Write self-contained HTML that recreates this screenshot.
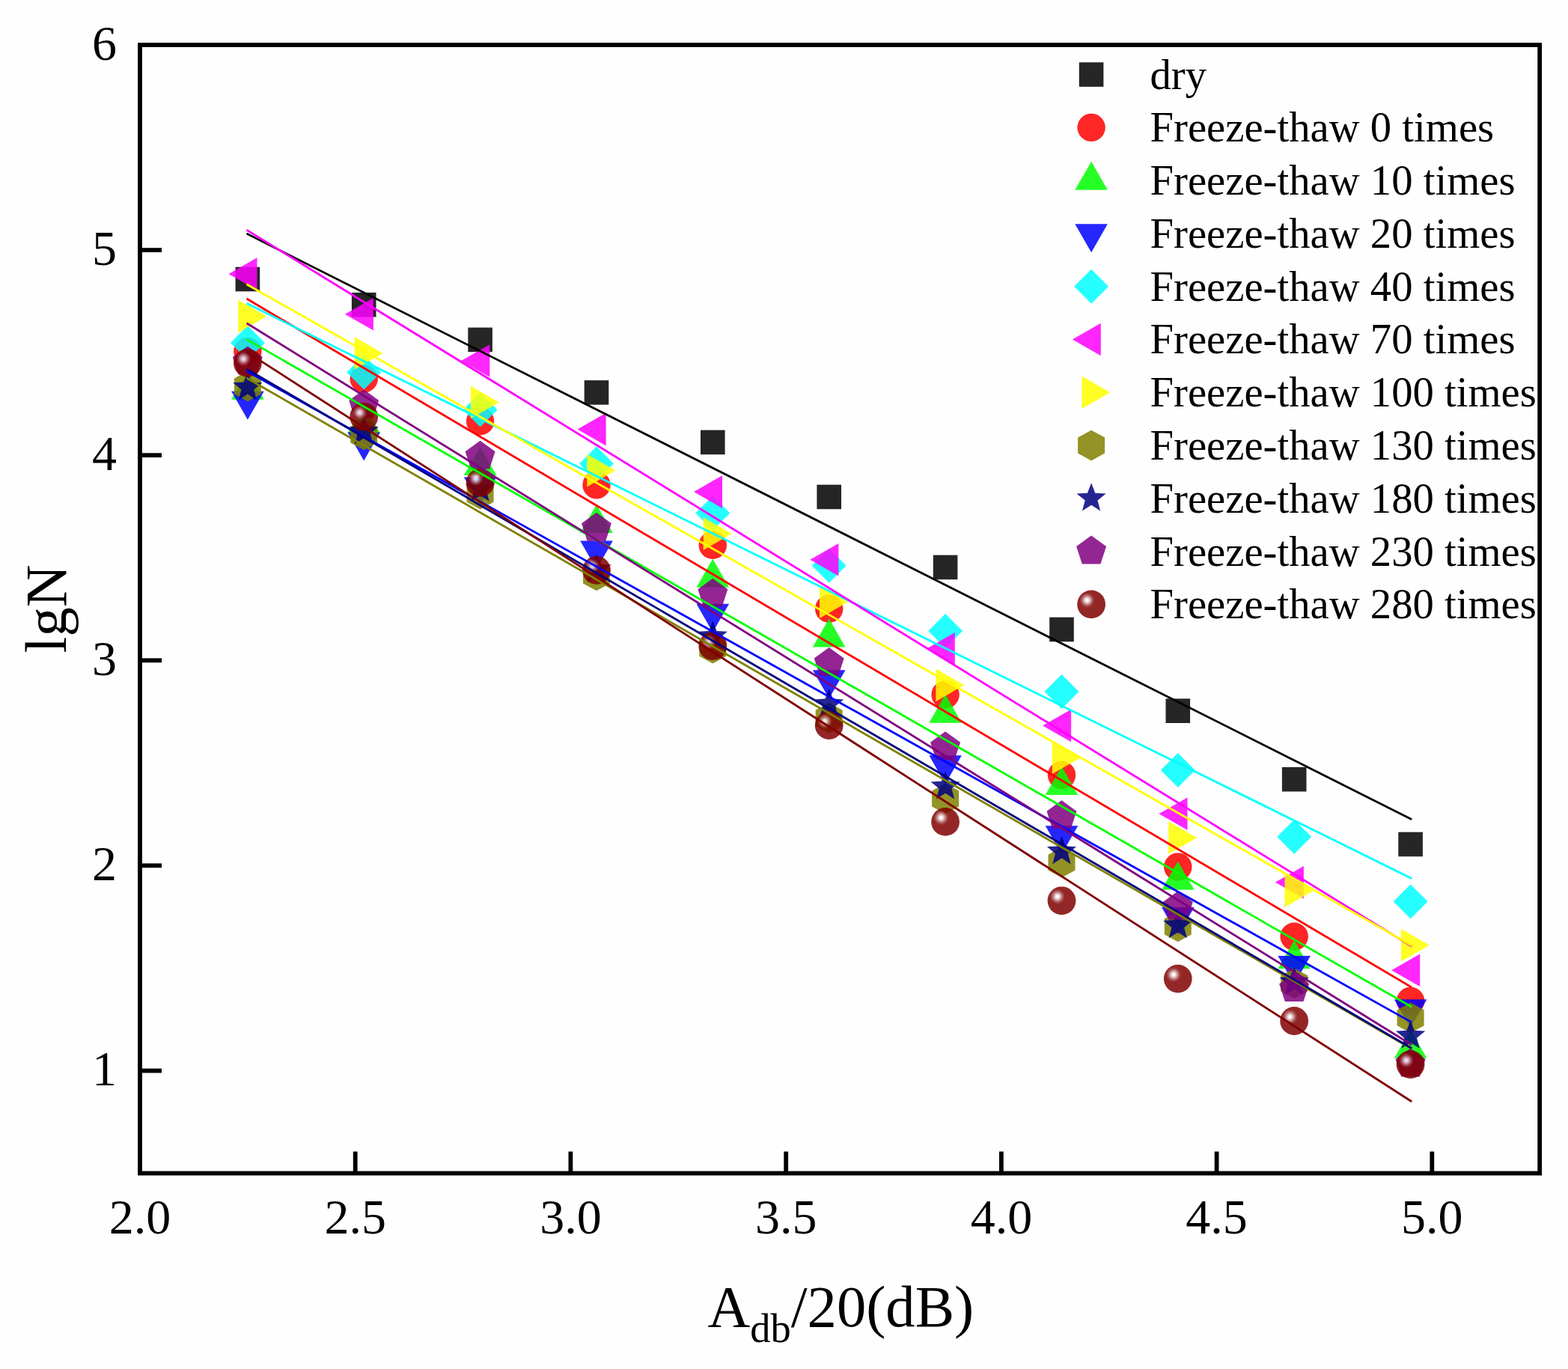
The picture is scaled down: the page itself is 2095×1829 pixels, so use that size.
<!DOCTYPE html>
<html lang="en">
<head>
<meta charset="utf-8">
<title>lgN versus Adb/20(dB) under freeze-thaw cycles</title>
<style>
html,body{margin:0;padding:0;background:#fefefe;}
body{width:2095px;height:1829px;overflow:hidden;}
svg{display:block;font-family:"Liberation Serif","DejaVu Serif",serif;fill:#000;}
.m{opacity:0.85}
.ln{fill:none;stroke-width:2.8;stroke-linecap:butt}
.tk{font-size:66px}
.lg{font-size:56.7px}
.al{font-size:78.6px}
</style>
</head>
<body>
<svg width="2095" height="1829" viewBox="0 0 2095 1829">
<defs><radialGradient id="hl" gradientUnits="userSpaceOnUse" cx="-5.7" cy="-5.5" r="10"><stop offset="0" stop-color="#fff" stop-opacity="1"/><stop offset="0.18" stop-color="#fff" stop-opacity="0.97"/><stop offset="0.45" stop-color="#fff" stop-opacity="0.6"/><stop offset="0.75" stop-color="#fff" stop-opacity="0.2"/><stop offset="1" stop-color="#fff" stop-opacity="0"/></radialGradient></defs>
<rect x="0" y="0" width="2095" height="1829" fill="#fefefe"/>
<g id="markers">
<g class="m" id="s-dry">
<rect x="314.6" y="356.7" width="32.6" height="32.6" fill="#000000"/>
<rect x="469.9" y="390.9" width="32.6" height="32.6" fill="#000000"/>
<rect x="625.3" y="437.6" width="32.6" height="32.6" fill="#000000"/>
<rect x="780.7" y="508.1" width="32.6" height="32.6" fill="#000000"/>
<rect x="936.0" y="574.6" width="32.6" height="32.6" fill="#000000"/>
<rect x="1091.4" y="647.6" width="32.6" height="32.6" fill="#000000"/>
<rect x="1246.8" y="741.6" width="32.6" height="32.6" fill="#000000"/>
<rect x="1402.2" y="824.7" width="32.6" height="32.6" fill="#000000"/>
<rect x="1557.5" y="933.4" width="32.6" height="32.6" fill="#000000"/>
<rect x="1712.9" y="1024.9" width="32.6" height="32.6" fill="#000000"/>
<rect x="1868.3" y="1111.7" width="32.6" height="32.6" fill="#000000"/>
</g>
<g class="m" id="s-ft0">
<circle cx="330.9" cy="469.5" r="18.7" fill="#ff0000"/>
<circle cx="486.2" cy="505.9" r="18.7" fill="#ff0000"/>
<circle cx="641.6" cy="562.8" r="18.7" fill="#ff0000"/>
<circle cx="797.0" cy="647.9" r="18.7" fill="#ff0000"/>
<circle cx="952.3" cy="728.3" r="18.7" fill="#ff0000"/>
<circle cx="1107.7" cy="813.3" r="18.7" fill="#ff0000"/>
<circle cx="1263.1" cy="928.0" r="18.7" fill="#ff0000"/>
<circle cx="1418.5" cy="1035.5" r="18.7" fill="#ff0000"/>
<circle cx="1573.8" cy="1158.1" r="18.7" fill="#ff0000"/>
<circle cx="1729.2" cy="1251.2" r="18.7" fill="#ff0000"/>
<circle cx="1884.6" cy="1337.4" r="18.7" fill="#ff0000"/>
</g>
<g class="m" id="s-ft10">
<polygon points="330.9,495.7 352.7,533.7 309.1,533.7" fill="#00ff00"/>
<polygon points="486.2,541.1 508.0,579.1 464.4,579.1" fill="#00ff00"/>
<polygon points="641.6,597.0 663.4,635.0 619.8,635.0" fill="#00ff00"/>
<polygon points="797.0,674.0 818.8,712.0 775.2,712.0" fill="#00ff00"/>
<polygon points="952.3,746.7 974.1,784.7 930.5,784.7" fill="#00ff00"/>
<polygon points="1107.7,826.4 1129.5,864.4 1085.9,864.4" fill="#00ff00"/>
<polygon points="1263.1,927.7 1284.9,965.7 1241.3,965.7" fill="#00ff00"/>
<polygon points="1418.5,1024.0 1440.3,1062.0 1396.7,1062.0" fill="#00ff00"/>
<polygon points="1573.8,1150.7 1595.6,1188.7 1552.0,1188.7" fill="#00ff00"/>
<polygon points="1729.2,1256.3 1751.0,1294.3 1707.4,1294.3" fill="#00ff00"/>
<polygon points="1884.6,1375.7 1906.4,1413.7 1862.8,1413.7" fill="#00ff00"/>
</g>
<g class="m" id="s-ft20">
<polygon points="330.9,560.7 352.7,522.7 309.1,522.7" fill="#0000ff"/>
<polygon points="486.2,615.4 508.0,577.4 464.4,577.4" fill="#0000ff"/>
<polygon points="641.6,675.6 663.4,637.6 619.8,637.6" fill="#0000ff"/>
<polygon points="797.0,760.6 818.8,722.6 775.2,722.6" fill="#0000ff"/>
<polygon points="952.3,844.7 974.1,806.7 930.5,806.7" fill="#0000ff"/>
<polygon points="1107.7,933.2 1129.5,895.2 1085.9,895.2" fill="#0000ff"/>
<polygon points="1263.1,1047.3 1284.9,1009.3 1241.3,1009.3" fill="#0000ff"/>
<polygon points="1418.5,1141.3 1440.3,1103.3 1396.7,1103.3" fill="#0000ff"/>
<polygon points="1573.8,1250.1 1595.6,1212.1 1552.0,1212.1" fill="#0000ff"/>
<polygon points="1729.2,1315.0 1751.0,1277.0 1707.4,1277.0" fill="#0000ff"/>
<polygon points="1884.6,1373.3 1906.4,1335.3 1862.8,1335.3" fill="#0000ff"/>
</g>
<g class="m" id="s-ft40">
<polygon points="330.9,435.0 353.9,458.0 330.9,481.0 307.9,458.0" fill="#00ffff"/>
<polygon points="486.2,474.5 509.2,497.5 486.2,520.5 463.2,497.5" fill="#00ffff"/>
<polygon points="641.6,524.4 664.6,547.4 641.6,570.4 618.6,547.4" fill="#00ffff"/>
<polygon points="797.0,596.5 820.0,619.5 797.0,642.5 774.0,619.5" fill="#00ffff"/>
<polygon points="952.3,662.5 975.3,685.5 952.3,708.5 929.3,685.5" fill="#00ffff"/>
<polygon points="1107.7,732.7 1130.7,755.7 1107.7,778.7 1084.7,755.7" fill="#00ffff"/>
<polygon points="1263.1,820.0 1286.1,843.0 1263.1,866.0 1240.1,843.0" fill="#00ffff"/>
<polygon points="1418.5,901.0 1441.5,924.0 1418.5,947.0 1395.5,924.0" fill="#00ffff"/>
<polygon points="1573.8,1006.0 1596.8,1029.0 1573.8,1052.0 1550.8,1029.0" fill="#00ffff"/>
<polygon points="1729.2,1095.0 1752.2,1118.0 1729.2,1141.0 1706.2,1118.0" fill="#00ffff"/>
<polygon points="1884.6,1181.4 1907.6,1204.4 1884.6,1227.4 1861.6,1204.4" fill="#00ffff"/>
</g>
<g class="m" id="s-ft70">
<polygon points="305.5,366.0 343.5,344.2 343.5,387.8" fill="#ff00ff"/>
<polygon points="460.9,419.7 498.9,397.9 498.9,441.5" fill="#ff00ff"/>
<polygon points="616.3,482.0 654.3,460.2 654.3,503.8" fill="#ff00ff"/>
<polygon points="771.6,573.6 809.6,551.8 809.6,595.4" fill="#ff00ff"/>
<polygon points="927.0,657.1 965.0,635.3 965.0,678.9" fill="#ff00ff"/>
<polygon points="1082.4,747.7 1120.4,725.9 1120.4,769.5" fill="#ff00ff"/>
<polygon points="1237.8,866.8 1275.8,845.0 1275.8,888.6" fill="#ff00ff"/>
<polygon points="1393.1,969.5 1431.1,947.7 1431.1,991.3" fill="#ff00ff"/>
<polygon points="1548.5,1087.2 1586.5,1065.4 1586.5,1109.0" fill="#ff00ff"/>
<polygon points="1703.9,1178.7 1741.9,1156.9 1741.9,1200.5" fill="#ff00ff"/>
<polygon points="1859.2,1296.3 1897.2,1274.5 1897.2,1318.1" fill="#ff00ff"/>
</g>
<g class="m" id="s-ft100">
<polygon points="356.2,422.6 318.2,400.8 318.2,444.4" fill="#ffff00"/>
<polygon points="511.6,471.9 473.6,450.1 473.6,493.7" fill="#ffff00"/>
<polygon points="666.9,537.5 628.9,515.7 628.9,559.3" fill="#ffff00"/>
<polygon points="822.3,628.6 784.3,606.8 784.3,650.4" fill="#ffff00"/>
<polygon points="977.7,713.1 939.7,691.3 939.7,734.9" fill="#ffff00"/>
<polygon points="1133.0,804.2 1095.0,782.4 1095.0,826.0" fill="#ffff00"/>
<polygon points="1288.4,915.3 1250.4,893.5 1250.4,937.1" fill="#ffff00"/>
<polygon points="1443.8,1012.3 1405.8,990.5 1405.8,1034.1" fill="#ffff00"/>
<polygon points="1599.2,1119.2 1561.2,1097.4 1561.2,1141.0" fill="#ffff00"/>
<polygon points="1754.5,1190.3 1716.5,1168.5 1716.5,1212.1" fill="#ffff00"/>
<polygon points="1909.9,1262.8 1871.9,1241.0 1871.9,1284.6" fill="#ffff00"/>
</g>
<g class="m" id="s-ft130">
<polygon points="330.9,495.7 348.9,505.5 348.9,526.5 330.9,536.3 312.9,526.5 312.9,505.5" fill="#808000"/>
<polygon points="486.2,560.7 504.2,570.5 504.2,591.5 486.2,601.3 468.2,591.5 468.2,570.5" fill="#808000"/>
<polygon points="641.6,639.9 659.6,649.7 659.6,670.7 641.6,680.5 623.6,670.7 623.6,649.7" fill="#808000"/>
<polygon points="797.0,748.7 815.0,758.5 815.0,779.5 797.0,789.3 779.0,779.5 779.0,758.5" fill="#808000"/>
<polygon points="952.3,845.9 970.3,855.7 970.3,876.7 952.3,886.5 934.3,876.7 934.3,855.7" fill="#808000"/>
<polygon points="1107.7,938.9 1125.7,948.7 1125.7,969.7 1107.7,979.5 1089.7,969.7 1089.7,948.7" fill="#808000"/>
<polygon points="1263.1,1046.7 1281.1,1056.5 1281.1,1077.5 1263.1,1087.3 1245.1,1077.5 1245.1,1056.5" fill="#808000"/>
<polygon points="1418.5,1132.0 1436.5,1141.8 1436.5,1162.8 1418.5,1172.6 1400.5,1162.8 1400.5,1141.8" fill="#808000"/>
<polygon points="1573.8,1217.6 1591.8,1227.4 1591.8,1248.4 1573.8,1258.2 1555.8,1248.4 1555.8,1227.4" fill="#808000"/>
<polygon points="1729.2,1293.5 1747.2,1303.3 1747.2,1324.3 1729.2,1334.1 1711.2,1324.3 1711.2,1303.3" fill="#808000"/>
<polygon points="1884.6,1339.5 1902.6,1349.3 1902.6,1370.3 1884.6,1380.1 1866.6,1370.3 1866.6,1349.3" fill="#808000"/>
</g>
<g class="m" id="s-ft180">
<polygon points="330.9,497.1 336.1,510.5 350.5,511.3 339.3,520.4 343.0,534.4 330.9,526.6 318.8,534.4 322.4,520.4 311.3,511.3 325.7,510.5" fill="#000080"/>
<polygon points="486.2,556.0 491.4,569.4 505.8,570.2 494.7,579.3 498.3,593.3 486.2,585.5 474.1,593.3 477.8,579.3 466.6,570.2 481.0,569.4" fill="#000080"/>
<polygon points="641.6,632.4 646.8,645.8 661.2,646.6 650.0,655.7 653.7,669.7 641.6,661.9 629.5,669.7 633.2,655.7 622.0,646.6 636.4,645.8" fill="#000080"/>
<polygon points="797.0,740.4 802.2,753.8 816.6,754.6 805.4,763.7 809.1,777.7 797.0,769.9 784.9,777.7 788.5,763.7 777.4,754.6 791.8,753.8" fill="#000080"/>
<polygon points="952.3,829.6 957.5,843.0 971.9,843.8 960.8,852.9 964.5,866.9 952.3,859.1 940.2,866.9 943.9,852.9 932.8,843.8 947.1,843.0" fill="#000080"/>
<polygon points="1107.7,920.2 1112.9,933.6 1127.3,934.4 1116.1,943.5 1119.8,957.5 1107.7,949.7 1095.6,957.5 1099.3,943.5 1088.1,934.4 1102.5,933.6" fill="#000080"/>
<polygon points="1263.1,1030.3 1268.3,1043.7 1282.7,1044.5 1271.5,1053.6 1275.2,1067.6 1263.1,1059.8 1251.0,1067.6 1254.7,1053.6 1243.5,1044.5 1257.9,1043.7" fill="#000080"/>
<polygon points="1418.5,1117.1 1423.7,1130.5 1438.0,1131.3 1426.9,1140.4 1430.6,1154.4 1418.5,1146.6 1406.3,1154.4 1410.0,1140.4 1398.9,1131.3 1413.2,1130.5" fill="#000080"/>
<polygon points="1573.8,1215.9 1579.0,1229.3 1593.4,1230.1 1582.2,1239.2 1585.9,1253.2 1573.8,1245.4 1561.7,1253.2 1565.4,1239.2 1554.2,1230.1 1568.6,1229.3" fill="#000080"/>
<polygon points="1729.2,1291.7 1734.4,1305.1 1748.8,1305.9 1737.6,1315.0 1741.3,1329.0 1729.2,1321.2 1717.1,1329.0 1720.8,1315.0 1709.6,1305.9 1724.0,1305.1" fill="#000080"/>
<polygon points="1884.6,1363.4 1889.8,1376.8 1904.2,1377.6 1893.0,1386.7 1896.7,1400.7 1884.6,1392.9 1872.5,1400.7 1876.1,1386.7 1865.0,1377.6 1879.4,1376.8" fill="#000080"/>
</g>
<g class="m" id="s-ft230">
<polygon points="330.9,462.4 350.8,476.9 343.2,500.4 318.5,500.4 310.9,476.9" fill="#800080"/>
<polygon points="486.2,520.5 506.2,535.0 498.6,558.5 473.9,558.5 466.3,535.0" fill="#800080"/>
<polygon points="641.6,588.7 661.6,603.2 653.9,626.7 629.3,626.7 621.6,603.2" fill="#800080"/>
<polygon points="797.0,684.8 816.9,699.3 809.3,722.8 784.6,722.8 777.0,699.3" fill="#800080"/>
<polygon points="952.3,772.7 972.3,787.2 964.7,810.7 940.0,810.7 932.4,787.2" fill="#800080"/>
<polygon points="1107.7,865.1 1127.7,879.6 1120.1,903.1 1095.4,903.1 1087.7,879.6" fill="#800080"/>
<polygon points="1263.1,977.2 1283.1,991.7 1275.4,1015.2 1250.7,1015.2 1243.1,991.7" fill="#800080"/>
<polygon points="1418.5,1069.2 1438.4,1083.7 1430.8,1107.2 1406.1,1107.2 1398.5,1083.7" fill="#800080"/>
<polygon points="1573.8,1190.5 1593.8,1205.0 1586.2,1228.5 1561.5,1228.5 1553.9,1205.0" fill="#800080"/>
<polygon points="1729.2,1300.0 1749.2,1314.5 1741.5,1338.0 1716.9,1338.0 1709.2,1314.5" fill="#800080"/>
<polygon points="1884.6,1400.5 1904.5,1415.0 1896.9,1438.5 1872.2,1438.5 1864.6,1415.0" fill="#800080"/>
</g>
<g class="m" id="s-ft280">
<g transform="translate(330.9 484.9)"><circle r="18.9" fill="#800000"/><circle r="18.9" fill="url(#hl)"/></g>
<g transform="translate(486.2 556.8)"><circle r="18.9" fill="#800000"/><circle r="18.9" fill="url(#hl)"/></g>
<g transform="translate(641.6 644.9)"><circle r="18.9" fill="#800000"/><circle r="18.9" fill="url(#hl)"/></g>
<g transform="translate(797.0 761.8)"><circle r="18.9" fill="#800000"/><circle r="18.9" fill="url(#hl)"/></g>
<g transform="translate(952.3 863.1)"><circle r="18.9" fill="#800000"/><circle r="18.9" fill="url(#hl)"/></g>
<g transform="translate(1107.7 969.0)"><circle r="18.9" fill="#800000"/><circle r="18.9" fill="url(#hl)"/></g>
<g transform="translate(1263.1 1097.9)"><circle r="18.9" fill="#800000"/><circle r="18.9" fill="url(#hl)"/></g>
<g transform="translate(1418.5 1203.3)"><circle r="18.9" fill="#800000"/><circle r="18.9" fill="url(#hl)"/></g>
<g transform="translate(1573.8 1307.6)"><circle r="18.9" fill="#800000"/><circle r="18.9" fill="url(#hl)"/></g>
<g transform="translate(1729.2 1364.0)"><circle r="18.9" fill="#800000"/><circle r="18.9" fill="url(#hl)"/></g>
<g transform="translate(1884.6 1422.1)"><circle r="18.9" fill="#800000"/><circle r="18.9" fill="url(#hl)"/></g>
</g>
</g>
<g id="fits">
<line class="ln" x1="329.5" y1="312.1" x2="1886.2" y2="1094.8" stroke="#000000"/>
<line class="ln" x1="329.5" y1="399.0" x2="1886.2" y2="1319.1" stroke="#ff0000"/>
<line class="ln" x1="329.5" y1="453.4" x2="1886.2" y2="1345.3" stroke="#00ff00"/>
<line class="ln" x1="329.5" y1="495.7" x2="1886.2" y2="1365.9" stroke="#0000ff"/>
<line class="ln" x1="329.5" y1="405.3" x2="1886.2" y2="1173.7" stroke="#00ffff"/>
<line class="ln" x1="329.5" y1="307.1" x2="1886.2" y2="1264.4" stroke="#ff00ff"/>
<line class="ln" x1="329.5" y1="379.7" x2="1886.2" y2="1263.2" stroke="#ffff00"/>
<line class="ln" x1="329.5" y1="505.0" x2="1886.2" y2="1401.2" stroke="#808000"/>
<line class="ln" x1="329.5" y1="493.0" x2="1886.2" y2="1400.5" stroke="#000080"/>
<line class="ln" x1="329.5" y1="431.7" x2="1886.2" y2="1396.0" stroke="#800080"/>
<line class="ln" x1="329.5" y1="470.1" x2="1886.2" y2="1471.8" stroke="#800000"/>
</g>
<g id="axes" stroke="#000" stroke-width="5.8" fill="none">
<rect x="187.0" y="60.0" width="1870.2" height="1507.5"/>
<line x1="474.7" y1="1567.5" x2="474.7" y2="1538.5"/>
<line x1="762.4" y1="1567.5" x2="762.4" y2="1538.5"/>
<line x1="1050.2" y1="1567.5" x2="1050.2" y2="1538.5"/>
<line x1="1337.9" y1="1567.5" x2="1337.9" y2="1538.5"/>
<line x1="1625.6" y1="1567.5" x2="1625.6" y2="1538.5"/>
<line x1="1913.3" y1="1567.5" x2="1913.3" y2="1538.5"/>
<line x1="187.0" y1="1430.5" x2="216.0" y2="1430.5"/>
<line x1="187.0" y1="1156.4" x2="216.0" y2="1156.4"/>
<line x1="187.0" y1="882.3" x2="216.0" y2="882.3"/>
<line x1="187.0" y1="608.2" x2="216.0" y2="608.2"/>
<line x1="187.0" y1="334.1" x2="216.0" y2="334.1"/>
</g>
<g id="ticklabels" class="tk">
<text x="187.0" y="1648.4" text-anchor="middle">2.0</text>
<text x="474.7" y="1648.4" text-anchor="middle">2.5</text>
<text x="762.4" y="1648.4" text-anchor="middle">3.0</text>
<text x="1050.2" y="1648.4" text-anchor="middle">3.5</text>
<text x="1337.9" y="1648.4" text-anchor="middle">4.0</text>
<text x="1625.6" y="1648.4" text-anchor="middle">4.5</text>
<text x="1913.3" y="1648.4" text-anchor="middle">5.0</text>
<text x="156" y="1450.0" text-anchor="end">1</text>
<text x="156" y="1175.9" text-anchor="end">2</text>
<text x="156" y="901.8" text-anchor="end">3</text>
<text x="156" y="627.7" text-anchor="end">4</text>
<text x="156" y="353.6" text-anchor="end">5</text>
<text x="156" y="79.5" text-anchor="end">6</text>
</g>
<text class="al" x="945.5" y="1771.5">A<tspan font-size="54.5px" dy="21">db</tspan><tspan dy="-21">/20(dB)</tspan></text>
<text class="al" transform="translate(88.3 813.5) rotate(-90)" text-anchor="middle">lgN</text>
<g id="legend">
<g class="m"><rect x="1441.8" y="83.3" width="32.6" height="32.6" fill="#000000"/></g>
<text class="lg" x="1536.5" y="118.5">dry</text>
<g class="m"><circle cx="1458.1" cy="170.4" r="18.7" fill="#ff0000"/></g>
<text class="lg" x="1536.5" y="189.3">Freeze-thaw 0 times</text>
<g class="m"><polygon points="1458.1,215.8 1479.9,253.8 1436.3,253.8" fill="#00ff00"/></g>
<text class="lg" x="1536.5" y="260.1">Freeze-thaw 10 times</text>
<g class="m"><polygon points="1458.1,337.3 1479.9,299.3 1436.3,299.3" fill="#0000ff"/></g>
<text class="lg" x="1536.5" y="330.8">Freeze-thaw 20 times</text>
<g class="m"><polygon points="1458.1,359.7 1481.1,382.7 1458.1,405.7 1435.1,382.7" fill="#00ffff"/></g>
<text class="lg" x="1536.5" y="401.6">Freeze-thaw 40 times</text>
<g class="m"><polygon points="1432.8,453.5 1470.8,431.7 1470.8,475.3" fill="#ff00ff"/></g>
<text class="lg" x="1536.5" y="472.4">Freeze-thaw 70 times</text>
<g class="m"><polygon points="1483.4,524.3 1445.4,502.5 1445.4,546.1" fill="#ffff00"/></g>
<text class="lg" x="1536.5" y="543.2">Freeze-thaw 100 times</text>
<g class="m"><polygon points="1458.1,574.8 1476.1,584.6 1476.1,605.6 1458.1,615.4 1440.1,605.6 1440.1,584.6" fill="#808000"/></g>
<text class="lg" x="1536.5" y="614.0">Freeze-thaw 130 times</text>
<g class="m"><polygon points="1458.1,645.2 1463.3,658.7 1477.7,659.5 1466.5,668.6 1470.2,682.5 1458.1,674.7 1446.0,682.5 1449.7,668.6 1438.5,659.5 1452.9,658.7" fill="#000080"/></g>
<text class="lg" x="1536.5" y="684.7">Freeze-thaw 180 times</text>
<g class="m"><polygon points="1458.1,715.6 1478.1,730.1 1470.4,753.6 1445.8,753.6 1438.1,730.1" fill="#800080"/></g>
<text class="lg" x="1536.5" y="755.5">Freeze-thaw 230 times</text>
<g class="m" transform="translate(1458.1 807.4)"><circle r="18.9" fill="#800000"/><circle r="18.9" fill="url(#hl)"/></g>
<text class="lg" x="1536.5" y="826.3">Freeze-thaw 280 times</text>
</g>
</svg>
</body>
</html>
